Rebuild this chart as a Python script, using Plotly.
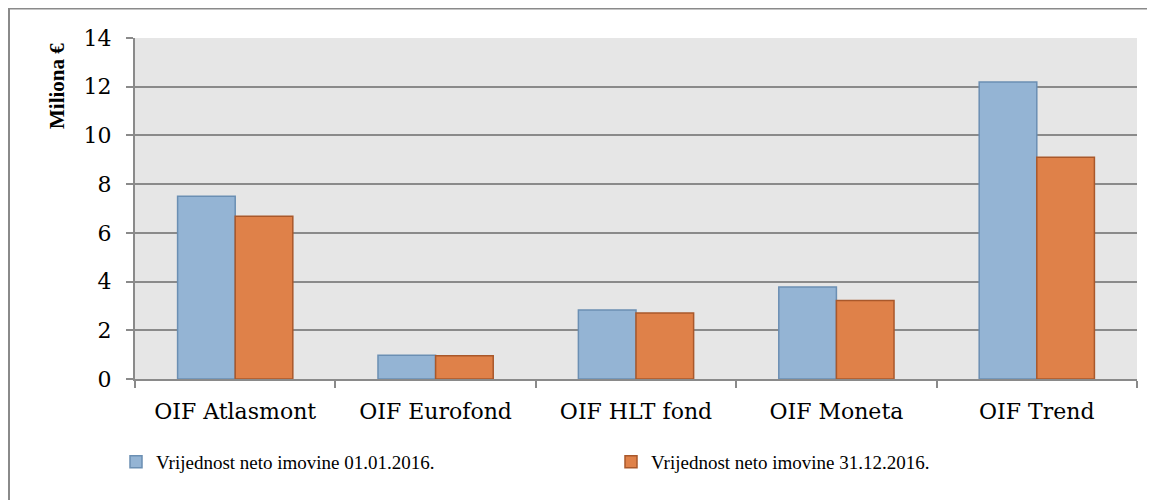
import plotly.graph_objects as go

categories = ["OIF Atlasmont", "OIF Eurofond", "OIF HLT fond", "OIF Moneta", "OIF Trend"]
vals_start = [7.5, 0.98, 2.83, 3.78, 12.19]
vals_end = [6.68, 0.95, 2.71, 3.22, 9.1]
series_names = ["Vrijednost neto imovine 01.01.2016.", "Vrijednost neto imovine 31.12.2016."]
yticks = [0, 2, 4, 6, 8, 10, 12, 14]
y_title = "Miliona €"

SERIF = "DejaVu Serif"
LEG = "Liberation Serif"
OFF = 8  # page body margin
W, H = 1155 - OFF, 500 - OFF
# target screen positions of the plot area
SX0, SX1, SY0, SY1 = 135, 1137, 38, 379
ml, mt = SX0 - OFF, SY0 - OFF
mr = W - (SX1 - OFF)
mb = H - (SY1 - OFF)
pw, ph = SX1 - SX0, SY1 - SY0

def px_x(p):
    return (p - SX0) / pw

def px_y(p):
    return (SY1 - p) / ph

fig = go.Figure()
fig.add_trace(go.Bar(x=categories, y=vals_start, name=series_names[0],
                     marker=dict(color="#94b4d4", line=dict(color="#6b8fb3", width=1.5))))
fig.add_trace(go.Bar(x=categories, y=vals_end, name=series_names[1],
                     marker=dict(color="#df8149", line=dict(color="#a9582b", width=1.5))))

fig.add_shape(type="rect", xref="paper", yref="paper",
              x0=px_x(9), x1=px_x(1175), y0=px_y(520), y1=px_y(8.5),
              line=dict(color="#8a8a8a", width=2), fillcolor="rgba(0,0,0,0)", layer="below")

fig.add_annotation(text="<b>" + y_title + "</b>", xref="paper", yref="paper",
                   x=px_x(57), y=px_y(86), xanchor="center", yanchor="middle",
                   textangle=-90, showarrow=False,
                   font=dict(family=LEG, size=21, color="black"))

fig.update_layout(
    width=W, height=H,
    margin=dict(l=ml, r=mr, t=mt, b=mb),
    paper_bgcolor="white", plot_bgcolor="#e6e6e6",
    barmode="group", bargap=0.425, bargroupgap=0,
    font=dict(family=SERIF, size=22, color="black"),
    showlegend=True,
    legend=dict(orientation="h", x=px_x(116), y=px_y(462), xanchor="left", yanchor="middle",
                font=dict(family=LEG, size=19), entrywidth=450, entrywidthmode="pixels",
                itemwidth=30, traceorder="normal"),
)
fig.update_xaxes(showline=True, linecolor="#8a8a8a", linewidth=2,
                 ticks="outside", tickson="boundaries", ticklen=7, tickcolor="#8a8a8a", tickwidth=2,
                 tickfont=dict(family=SERIF, size=22), showgrid=False, ticklabelstandoff=12)
fig.update_yaxes(range=[0, 14], tickvals=yticks, showline=True, linecolor="#8a8a8a", linewidth=2,
                 ticks="outside", ticklen=7, tickcolor="#8a8a8a", tickwidth=2,
                 showgrid=True, gridcolor="#8a8a8a", gridwidth=2, zeroline=False,
                 tickfont=dict(family=SERIF, size=22), ticklabelstandoff=10)

fig.write_html("out.html")
